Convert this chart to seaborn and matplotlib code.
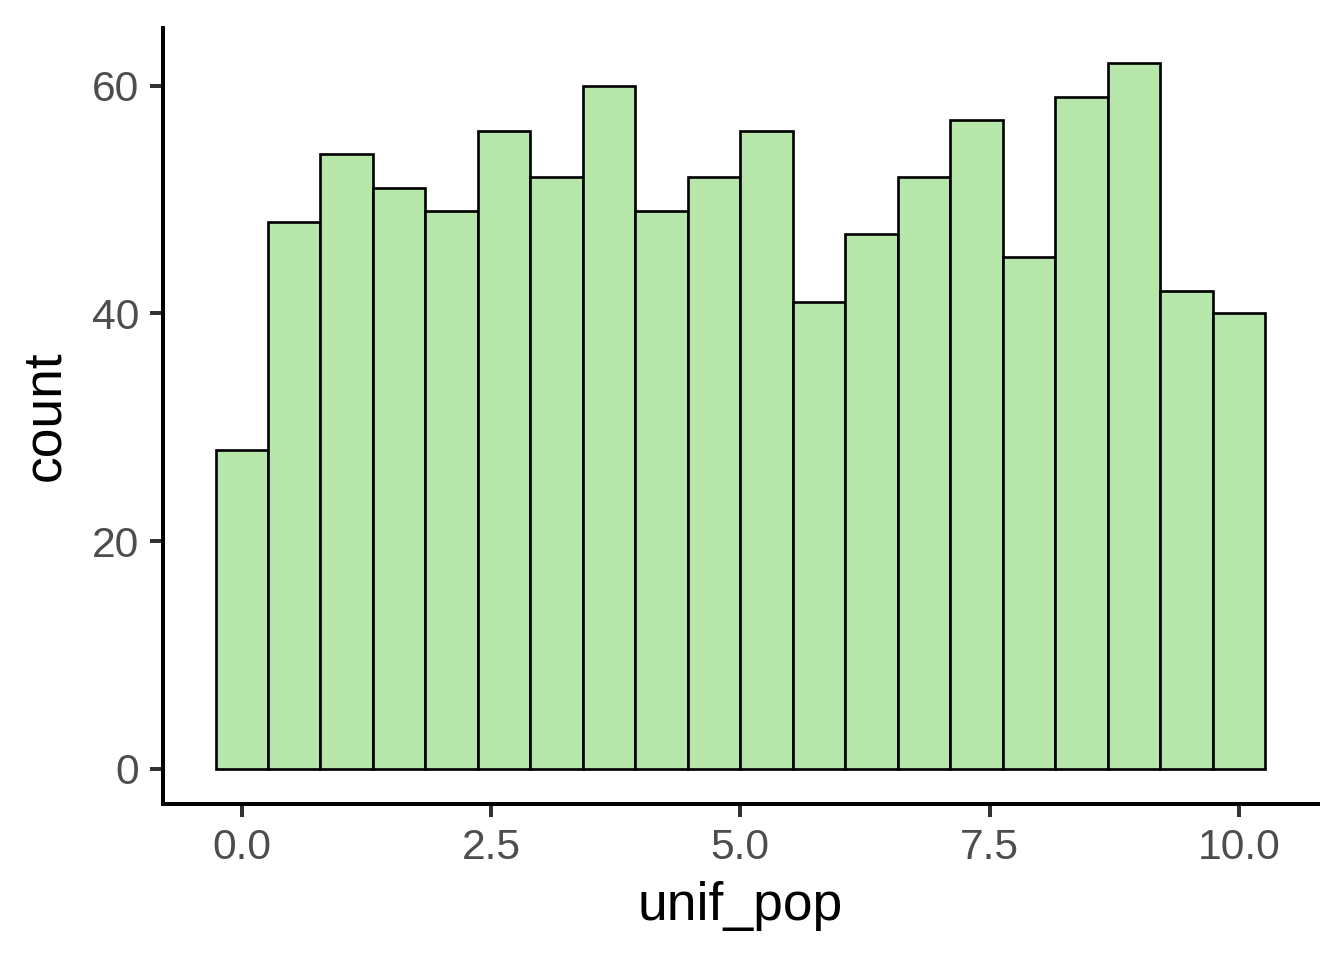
import numpy as np
import pandas as pd
import seaborn as sns
import matplotlib.pyplot as plt

# Histogram counts (20 bins, width 10/19, centred on 0..10)
bin_centers = [0.0, 0.526, 1.053, 1.579, 2.105, 2.632, 3.158, 3.684, 4.211, 4.737,
               5.263, 5.789, 6.316, 6.842, 7.368, 7.895, 8.421, 8.947, 9.474, 10.0]
counts = [28, 48, 54, 51, 49, 56, 52, 60, 49, 52,
          56, 41, 47, 52, 57, 45, 59, 62, 42, 40]
x_ticks = [0.0, 2.5, 5.0, 7.5, 10.0]
x_tick_labels = ["0.0", "2.5", "5.0", "7.5", "10.0"]
y_ticks = [0, 20, 40, 60]

df = pd.DataFrame({"unif_pop": bin_centers, "n": counts})

sns.set_theme(style="ticks")
plt.rcParams['font.family'] = ['Liberation Sans', 'DejaVu Sans']

fig = plt.figure(figsize=(7, 5), dpi=192)
ax = fig.add_axes([0.1213, 0.1625, 0.8590, 0.8085])

width = 10 / 19
edges = list(np.append(np.array(bin_centers) - width / 2, bin_centers[-1] + width / 2))
sns.histplot(data=df, x="unif_pop", weights="n", bins=edges, ax=ax,
             color="#B7E6AA", edgecolor="black", linewidth=1.0, alpha=1)

xr = edges[-1] - edges[0]
ax.set_xlim(edges[0] - 0.05 * xr, edges[-1] + 0.05 * xr)
ax.set_ylim(-0.05 * 62, 62 * 1.05)
ax.set_xticks(x_ticks)
ax.set_xticklabels(x_tick_labels)
ax.set_yticks(y_ticks)

for side in ["top", "right"]:
    ax.spines[side].set_visible(False)
for side in ["left", "bottom"]:
    ax.spines[side].set_linewidth(1.5)
    ax.spines[side].set_color("black")

ax.tick_params(axis="both", length=5, width=1.5, color="#333333",
               labelsize=16, labelcolor="#4D4D4D", pad=4)
ax.set_xlabel("unif_pop", fontsize=20, color="black", labelpad=5)
ax.set_ylabel("count", fontsize=20, color="black", labelpad=8)

fig.savefig("out.png", dpi=192)
